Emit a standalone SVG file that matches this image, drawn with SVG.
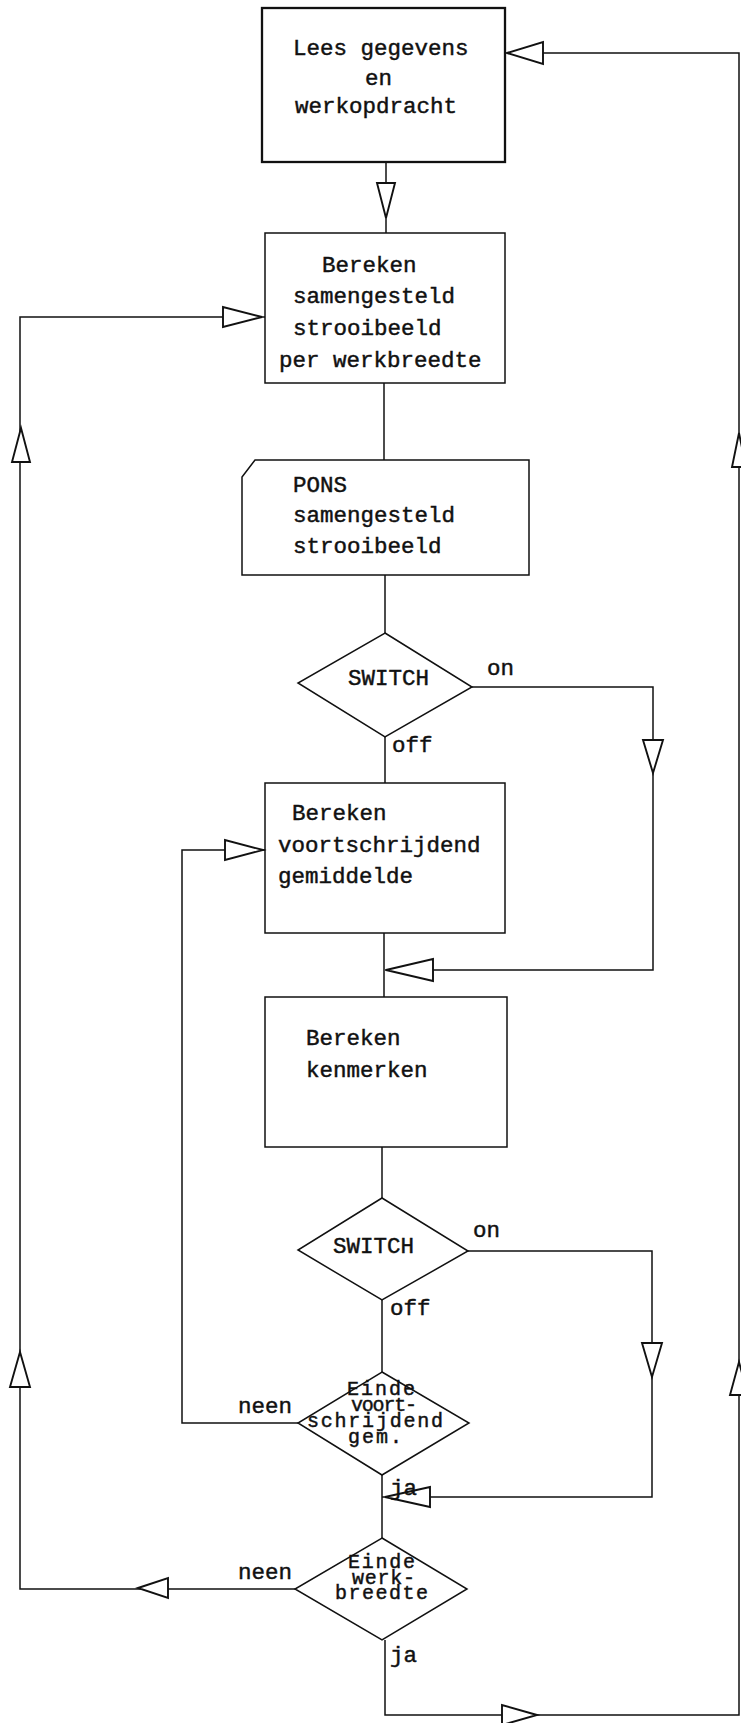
<svg xmlns="http://www.w3.org/2000/svg" width="741" height="1723" viewBox="0 0 741 1723">
<style>
.bg{fill:#fff}
.box{fill:none;stroke:#111;stroke-width:1.5}
.box1{fill:none;stroke:#111;stroke-width:2.3}
.ln{fill:none;stroke:#111;stroke-width:1.5}
.ah{fill:#fff;stroke:#111;stroke-width:1.9;stroke-linejoin:miter}
text{font-family:"Liberation Mono","Courier New",monospace;font-size:22.5px;fill:#111;stroke:#111;stroke-width:0.45}
.dt{font-size:20px}
</style>
<rect class="bg" x="0" y="0" width="741" height="1723"/>

<g id="connectors">
<path class="ln" d="M385,1640 V1715 H739 V53 H507"/>
<path class="ln" d="M386,162 V233"/>
<path class="ln" d="M295,1589 H20 V317 H265"/>
<path class="ln" d="M384,383 V460"/>
<path class="ln" d="M385,575 V633"/>
<path class="ln" d="M385,737 V783"/>
<path class="ln" d="M472,687 H653 V970 H385"/>
<path class="ln" d="M384,933 V997"/>
<path class="ln" d="M382,1147 V1198"/>
<path class="ln" d="M468,1251 H652 V1497 H382"/>
<path class="ln" d="M382,1300 V1372"/>
<path class="ln" d="M298,1423 H182 V850 H265"/>
<path class="ln" d="M382,1475 V1538"/>
<polygon class="ah" points="507,53 543,42 543,64"/>
<polygon class="ah" points="386,218 377,183 395,183"/>
<polygon class="ah" points="262,317 223,307 223,327"/>
<polygon class="ah" points="21,428 12,462 30,462"/>
<polygon class="ah" points="653,773 643,740 663,740"/>
<polygon class="ah" points="386,970 433,959 433,981"/>
<polygon class="ah" points="263,850 225,840 225,860"/>
<polygon class="ah" points="652,1377 642,1343 662,1343"/>
<polygon class="ah" points="385,1497 430,1487 430,1507"/>
<polygon class="ah" points="138,1588 168,1578 168,1598"/>
<polygon class="ah" points="20,1352 10,1387 30,1387"/>
<polygon class="ah" points="739,433 732,467 746,467"/>
<polygon class="ah" points="739,1362 730,1395 748,1395"/>
<polygon class="ah" points="537,1715 502,1705 502,1725"/>
<text x="487" y="675">on</text>
<text x="392" y="752">off</text>
<text x="473" y="1237">on</text>
<text x="390" y="1315">off</text>
<text x="238" y="1413">neen</text>
<text x="390" y="1495">ja</text>
<text x="238" y="1579">neen</text>
<text x="390" y="1662">ja</text>
</g>

<g id="n1">
<rect class="box1" x="262" y="8" width="243" height="154"/>
<text x="293" y="55">Lees gegevens</text>
<text x="365" y="85">en</text>
<text x="295" y="113">werkopdracht</text>
</g>

<g id="n2">
<rect class="box" x="265" y="233" width="240" height="150"/>
<text x="322" y="272">Bereken</text>
<text x="293" y="303">samengesteld</text>
<text x="293" y="335">strooibeeld</text>
<text x="279" y="367">per werkbreedte</text>
</g>

<g id="n3">
<path class="box" d="M255,460 H529 V575 H242 V477 Z"/>
<text x="293" y="492">PONS</text>
<text x="293" y="522">samengesteld</text>
<text x="293" y="553">strooibeeld</text>
</g>

<g id="n4">
<polygon class="box" points="385,633 472,687 385,737 298,683"/>
<text x="348" y="685">SWITCH</text>
</g>

<g id="n5">
<rect class="box" x="265" y="783" width="240" height="150"/>
<text x="292" y="820">Bereken</text>
<text x="278" y="852">voortschrijdend</text>
<text x="278" y="883">gemiddelde</text>
</g>

<g id="n6">
<rect class="box" x="265" y="997" width="242" height="150"/>
<text x="306" y="1045">Bereken</text>
<text x="306" y="1077">kenmerken</text>
</g>

<g id="n7">
<polygon class="box" points="382,1198 468,1251 382,1300 298,1250"/>
<text x="333" y="1253">SWITCH</text>
</g>

<g id="n8">
<polygon class="box" points="382,1372 469,1423 382,1475 298,1423"/>
<text class="dt" x="347" y="1395" textLength="68">Einde</text>
<text class="dt" x="351" y="1411" textLength="66">voort-</text>
<text class="dt" x="307" y="1427" textLength="136">schrijdend</text>
<text class="dt" x="348" y="1443" textLength="54">gem.</text>
</g>

<g id="n9">
<polygon class="box" points="382,1538 467,1589 382,1640 295,1589"/>
<text class="dt" x="348" y="1568" textLength="67">Einde</text>
<text class="dt" x="352" y="1584" textLength="63">werk-</text>
<text class="dt" x="335" y="1599" textLength="93">breedte</text>
</g>
</svg>
